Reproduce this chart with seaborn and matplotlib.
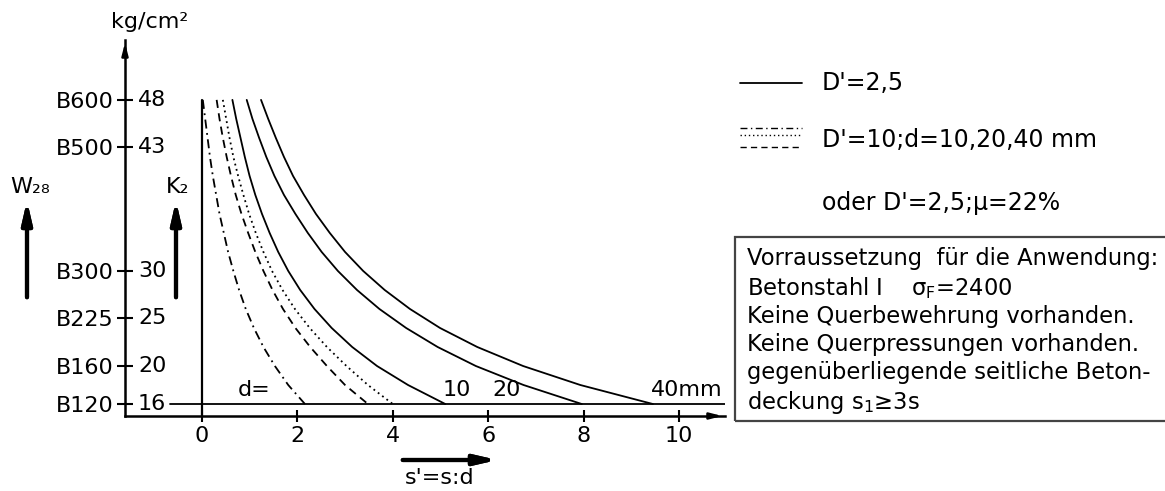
import numpy as np
import matplotlib
matplotlib.use("Agg")
import matplotlib.pyplot as plt
from matplotlib.lines import Line2D
from matplotlib.patches import Rectangle
import seaborn as sns

# concrete strength classes on the left axis
k2_ticks = [16, 20, 25, 30, 43, 48]
w28_labels = ["B120", "B160", "B225", "B300", "B500", "B600"]
x_ticks = [0, 2, 4, 6, 8, 10]

# curves: K2 levels and s' values
k2_levels = [48, 46, 44, 42, 40, 38, 36, 34, 32, 30, 28, 26, 24, 22, 20, 18, 16]
s_d10_D10 = [0.02, 0.07, 0.12, 0.17, 0.23, 0.30, 0.37, 0.46, 0.55, 0.66, 0.78,
             0.92, 1.09, 1.29, 1.53, 1.81, 2.16]
s_d20_D10 = [0.31, 0.37, 0.44, 0.52, 0.61, 0.71, 0.83, 0.97, 1.12, 1.29, 1.48,
             1.70, 1.96, 2.27, 2.62, 3.00, 3.48]
s_d40_D10 = [0.44, 0.51, 0.58, 0.66, 0.76, 0.87, 0.99, 1.13, 1.29, 1.47, 1.69,
             1.95, 2.26, 2.62, 3.03, 3.48, 4.00]
s_d10_D25 = [0.64, 0.72, 0.81, 0.90, 1.00, 1.12, 1.26, 1.42, 1.60, 1.81, 2.06,
             2.36, 2.72, 3.15, 3.67, 4.32, 5.10]
s_d20_D25 = [0.94, 1.06, 1.20, 1.35, 1.52, 1.72, 1.96, 2.22, 2.51, 2.85, 3.25,
             3.72, 4.28, 4.94, 5.74, 6.74, 7.96]
s_d40_D25 = [1.24, 1.39, 1.55, 1.72, 1.91, 2.14, 2.39, 2.68, 3.00, 3.38, 3.83,
             4.36, 4.99, 5.77, 6.73, 7.93, 9.45]

W, H = 1165, 491
FS = 16
sns.set_style("white")
plt.rcParams["font.family"] = ["DejaVu Sans"]
plt.rcParams["text.color"] = "black"
plt.rcParams["xtick.color"] = "black"
plt.rcParams["ytick.color"] = "black"

def fx(px):
    return px / W

def fy(py):
    return 1 - py / H

fig = plt.figure(figsize=(W / 100, H / 100), dpi=100)
ax = fig.add_axes([fx(125), fy(416), 600 / W, 376 / H])
x0, x1, y0, y1 = -1.61, 10.96, 14.74, 54.3
ax.set_xlim(x0, x1)
ax.set_ylim(y0, y1)

ls_dashdot = (0, (5, 2.5, 1, 2.5))
ls_dash = (0, (4.5, 3))
ls_dot = (0, (1, 2))
curves = [
    (s_d10_D10, ls_dashdot),
    (s_d20_D10, ls_dash),
    (s_d40_D10, ls_dot),
    (s_d10_D25, "-"),
    (s_d20_D25, "-"),
    (s_d40_D25, "-"),
]
for xs, ls in curves:
    sns.lineplot(x=xs, y=k2_levels, sort=False, estimator=None, ax=ax,
                 color="black", linestyle=ls, linewidth=1.3)

# base lines
ax.plot([0, 0], [y0, max(k2_ticks)], color="black", lw=1.6)
ax.plot([-0.67, x1], [min(k2_ticks)] * 2, color="black", lw=1.3)

# axes
for s in ["top", "right"]:
    ax.spines[s].set_visible(False)
for s in ["left", "bottom"]:
    ax.spines[s].set_linewidth(1.8)
    ax.spines[s].set_color("black")
ax.annotate("", xy=(0, 1.0), xytext=(0, 0.95), xycoords="axes fraction",
            arrowprops=dict(arrowstyle="-|>,head_width=0.18,head_length=0.7",
                            color="black", lw=1.8))
ax.annotate("", xy=(1.0, 0), xytext=(0.97, 0), xycoords="axes fraction",
            arrowprops=dict(arrowstyle="-|>,head_width=0.18,head_length=0.7",
                            color="black", lw=1.8))

ax.set_yticks(k2_ticks)
ax.set_yticklabels(w28_labels)
ax.set_xticks(x_ticks)
ax.set_xticklabels([str(v) for v in x_ticks])
ax.tick_params(axis="y", direction="inout", length=12, width=1.5, pad=2,
               labelsize=FS, left=True)
ax.tick_params(axis="x", direction="inout", length=9, width=1.5, pad=3,
               labelsize=FS, bottom=True)
for v in k2_ticks:
    ax.text(-1.34, v, str(v), fontsize=FS, va="center", ha="left")

ax.text(1.09, 17.5, "d=", fontsize=FS, va="center", ha="center")
ax.text(5.34, 17.5, "10", fontsize=FS, va="center", ha="center")
ax.text(6.38, 17.5, "20", fontsize=FS, va="center", ha="center")
ax.text(10.16, 17.5, "40mm", fontsize=FS, va="center", ha="center")

# outer annotations
fig.text(fx(150), fy(22), "kg/cm²", fontsize=FS, ha="center", va="center")
fig.text(fx(30), fy(187), "W₂₈", fontsize=FS, ha="center", va="center")
fig.text(fx(178), fy(187), "K₂", fontsize=FS, ha="center", va="center")
big = dict(arrowstyle="-|>,head_width=0.3,head_length=1.3", color="black", lw=3)
fig.add_artist(plt.annotate("", xy=(fx(27), fy(198)), xytext=(fx(27), fy(300)),
                            xycoords="figure fraction", arrowprops=big))
fig.add_artist(plt.annotate("", xy=(fx(176), fy(198)), xytext=(fx(176), fy(300)),
                            xycoords="figure fraction", arrowprops=big))
fig.add_artist(plt.annotate("", xy=(fx(500), fy(460)), xytext=(fx(400), fy(460)),
                            xycoords="figure fraction", arrowprops=big))
fig.text(fx(440), fy(478), "s'=s:d", fontsize=FS, ha="center", va="center")

# legend
fig.add_artist(Line2D([fx(740), fx(802)], [fy(83)] * 2, color="black", lw=1.3))
fig.add_artist(Line2D([fx(740), fx(802)], [fy(128)] * 2, color="black", lw=1.0,
                      linestyle=ls_dashdot))
fig.add_artist(Line2D([fx(740), fx(802)], [fy(135)] * 2, color="black", lw=1.0,
                      linestyle=ls_dot))
fig.add_artist(Line2D([fx(740), fx(802)], [fy(147)] * 2, color="black", lw=1.0,
                      linestyle=ls_dash))
fig.text(fx(822), fy(83), "D'=2,5", fontsize=17, va="center")
fig.text(fx(822), fy(140), "D'=10;d=10,20,40 mm", fontsize=17, va="center")
fig.text(fx(822), fy(203), "oder D'=2,5;µ=22%", fontsize=17, va="center")

# conditions box
fig.add_artist(Rectangle((fx(735), fy(421)), (1175 - 735) / W, (421 - 237) / H,
                         transform=fig.transFigure, fill=False,
                         edgecolor="#444444", lw=1.6))
box_lines = [
    "Vorraussetzung  für die Anwendung:",
    "Betonstahl I    σ$_\\mathrm{F}$=2400",
    "Keine Querbewehrung vorhanden.",
    "Keine Querpressungen vorhanden.",
    "gegenüberliegende seitliche Beton-",
    "deckung s$_1$≥3s",
]
box_y = [258, 288, 317, 345, 373, 402]
for t, py in zip(box_lines, box_y):
    fig.text(fx(747), fy(py), t, fontsize=16.3, va="center")

fig.savefig("out.png", dpi=100)
